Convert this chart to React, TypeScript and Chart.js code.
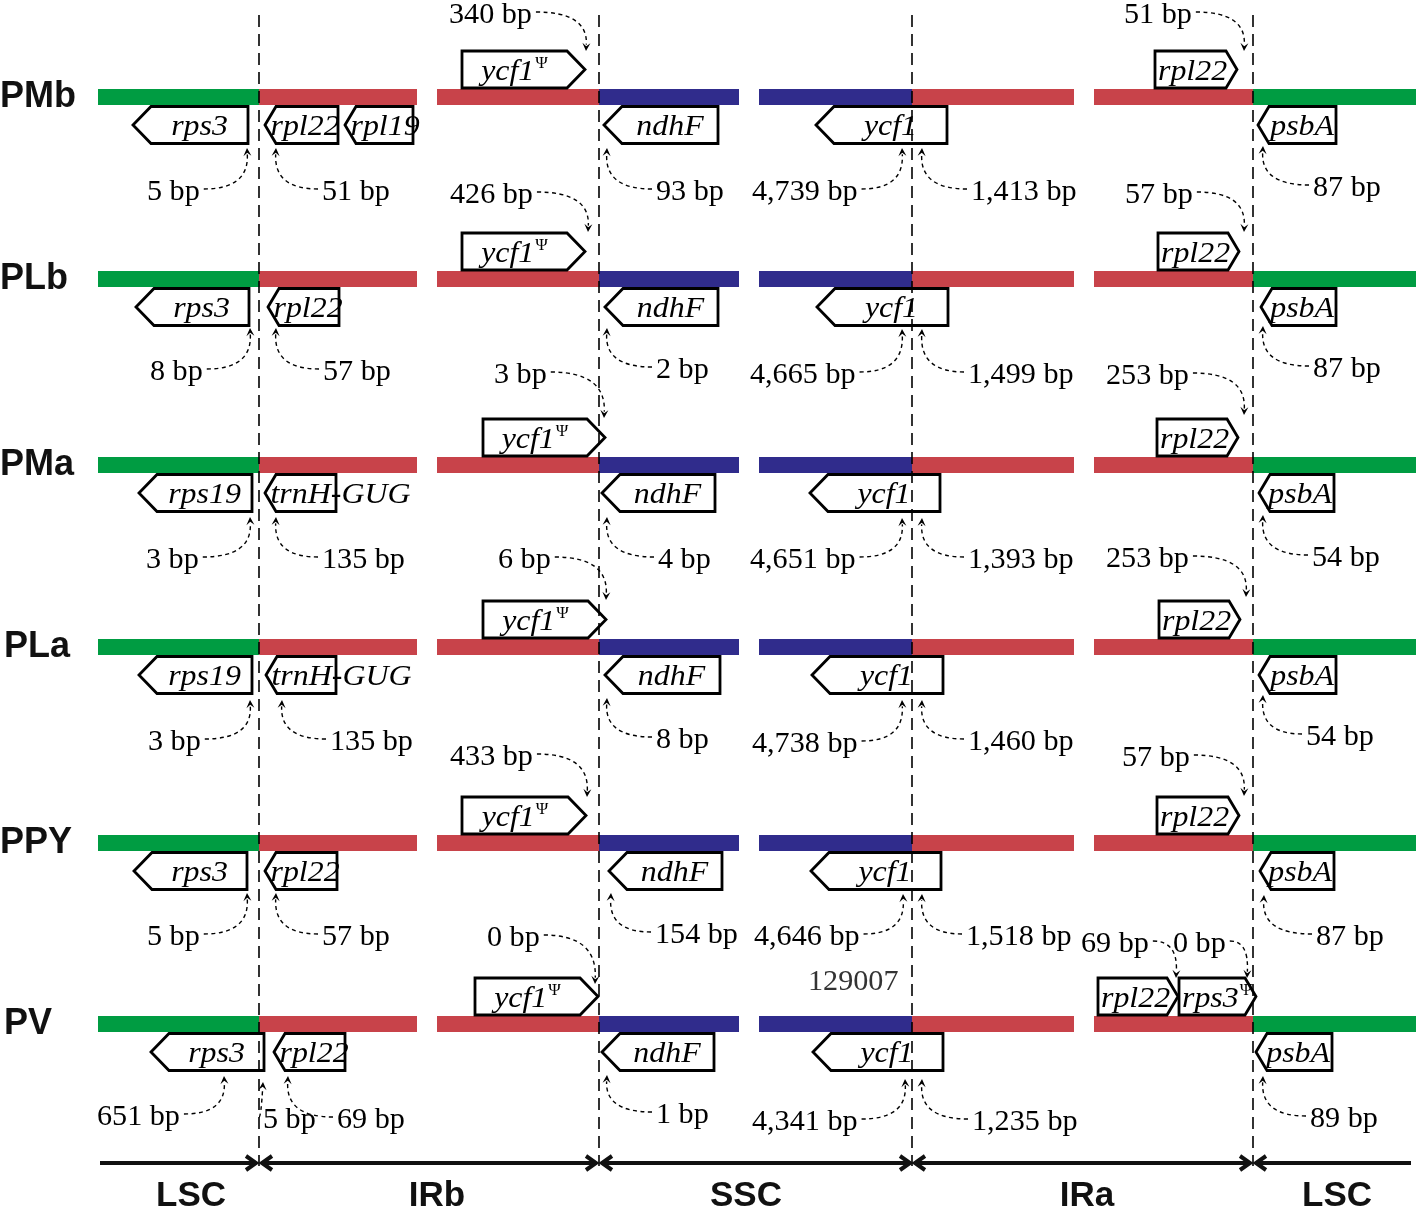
import React, { useEffect, useRef } from 'react';
import { Chart, registerables } from 'chart.js';

Chart.register(...registerables);

const W = 1418;
const H = 1209;

// ---- data ----
const rowNames = ['PMb', 'PLb', 'PMa', 'PLa', 'PPY', 'PV'];
const rowY = [97, 279, 465, 647, 843, 1024];
const rowLabelX = [0, 0, 0, 4, 0, 4];

const junctions = [259, 599, 912, 1253];

const segStarts = [98, 259, 437, 599, 759, 912, 1094, 1253];
const segEnds = [259, 417, 599, 739, 912, 1074, 1253, 1416];
const segKinds = ['LSC', 'IR', 'IR', 'SSC', 'SSC', 'IR', 'IR', 'LSC'];

const regionNames = ['LSC', 'IRb', 'SSC', 'IRa', 'LSC'];
const regionLabelX = [191, 437, 746, 1087, 1337];
const regionArrowFrom = [100, 262, 602, 915, 1256];
const regionArrowTo = [256, 596, 910, 1250, 1411];
const regionHeadLeft = [false, true, true, true, true];
const regionHeadRight = [true, true, true, true, false];

// gene: [row, name, start, end, side (a=above / b=below), direction]
const genes: [number, string, number, number, string, string][] = [
  [0, 'rps3', 133, 248, 'b', 'L'],
  [0, 'rpl22', 265, 338, 'b', 'L'],
  [0, 'rpl19', 345, 413, 'b', 'L'],
  [0, 'ycf1Ψ', 462, 585, 'a', 'R'],
  [0, 'ndhF', 604, 718, 'b', 'L'],
  [0, 'ycf1', 816, 947, 'b', 'L'],
  [0, 'rpl22', 1155, 1237, 'a', 'R'],
  [0, 'psbA', 1258, 1336, 'b', 'L'],

  [1, 'rps3', 136, 249, 'b', 'L'],
  [1, 'rpl22', 268, 339, 'b', 'L'],
  [1, 'ycf1Ψ', 462, 585, 'a', 'R'],
  [1, 'ndhF', 605, 718, 'b', 'L'],
  [1, 'ycf1', 817, 948, 'b', 'L'],
  [1, 'rpl22', 1158, 1239, 'a', 'R'],
  [1, 'psbA', 1261, 1336, 'b', 'L'],

  [2, 'rps19', 139, 252, 'b', 'L'],
  [2, 'trnH-GUG', 265, 336, 'b', 'L'],
  [2, 'ycf1Ψ', 483, 605, 'a', 'R'],
  [2, 'ndhF', 602, 715, 'b', 'L'],
  [2, 'ycf1', 810, 940, 'b', 'L'],
  [2, 'rpl22', 1157, 1238, 'a', 'R'],
  [2, 'psbA', 1259, 1334, 'b', 'L'],

  [3, 'rps19', 139, 252, 'b', 'L'],
  [3, 'trnH-GUG', 266, 336, 'b', 'L'],
  [3, 'ycf1Ψ', 483, 606, 'a', 'R'],
  [3, 'ndhF', 605, 720, 'b', 'L'],
  [3, 'ycf1', 812, 943, 'b', 'L'],
  [3, 'rpl22', 1159, 1240, 'a', 'R'],
  [3, 'psbA', 1259, 1336, 'b', 'L'],

  [4, 'rps3', 134, 247, 'b', 'L'],
  [4, 'rpl22', 265, 337, 'b', 'L'],
  [4, 'ycf1Ψ', 462, 586, 'a', 'R'],
  [4, 'ndhF', 609, 722, 'b', 'L'],
  [4, 'ycf1', 811, 941, 'b', 'L'],
  [4, 'rpl22', 1157, 1239, 'a', 'R'],
  [4, 'psbA', 1260, 1334, 'b', 'L'],

  [5, 'rps3', 151, 264, 'b', 'L'],
  [5, 'rpl22', 274, 345, 'b', 'L'],
  [5, 'ycf1Ψ', 475, 598, 'a', 'R'],
  [5, 'ndhF', 602, 714, 'b', 'L'],
  [5, 'ycf1', 813, 943, 'b', 'L'],
  [5, 'rpl22', 1098, 1178, 'a', 'R'],
  [5, 'rps3Ψ', 1179, 1256, 'a', 'R'],
  [5, 'psbA', 1256, 1332, 'b', 'L'],
];

// annotation: [label, text left x, text y, target x, target y]
const notes: [string, number, number, number, number][] = [
  ['5 bp', 147, 190, 247, 148],
  ['51 bp', 322, 190, 276, 148],
  ['340 bp', 449, 13, 586, 51],
  ['93 bp', 656, 190, 607, 148],
  ['4,739 bp', 752, 190, 902, 148],
  ['1,413 bp', 971, 190, 922, 148],
  ['51 bp', 1124, 13, 1244, 51],
  ['87 bp', 1313, 186, 1263, 146],

  ['426 bp', 450, 193, 588, 232],
  ['8 bp', 150, 370, 250, 328],
  ['57 bp', 323, 370, 276, 328],
  ['2 bp', 656, 368, 607, 328],
  ['4,665 bp', 750, 373, 902, 329],
  ['1,499 bp', 968, 373, 922, 329],
  ['57 bp', 1125, 193, 1244, 232],
  ['87 bp', 1313, 367, 1263, 326],

  ['3 bp', 494, 373, 604, 418],
  ['3 bp', 146, 558, 250, 517],
  ['135 bp', 322, 558, 276, 517],
  ['4 bp', 658, 558, 607, 517],
  ['4,651 bp', 750, 558, 902, 518],
  ['1,393 bp', 968, 558, 922, 518],
  ['253 bp', 1106, 374, 1244, 415],
  ['54 bp', 1312, 556, 1263, 515],

  ['6 bp', 498, 558, 606, 600],
  ['3 bp', 148, 740, 250, 700],
  ['135 bp', 330, 740, 282, 700],
  ['8 bp', 656, 738, 607, 698],
  ['4,738 bp', 752, 742, 902, 700],
  ['1,460 bp', 968, 740, 922, 700],
  ['253 bp', 1106, 557, 1246, 597],
  ['54 bp', 1306, 735, 1263, 695],

  ['433 bp', 450, 755, 587, 797],
  ['5 bp', 147, 935, 247, 893],
  ['57 bp', 322, 935, 276, 893],
  ['154 bp', 655, 933, 611, 893],
  ['4,646 bp', 754, 935, 903, 894],
  ['1,518 bp', 966, 935, 922, 894],
  ['57 bp', 1122, 756, 1244, 796],
  ['87 bp', 1316, 935, 1264, 895],

  ['0 bp', 487, 936, 595, 984],
  ['651 bp', 97, 1115, 224, 1076],
  ['5 bp', 263, 1118, 263, 1082],
  ['69 bp', 337, 1118, 288, 1076],
  ['1 bp', 656, 1113, 607, 1075],
  ['4,341 bp', 752, 1120, 905, 1079],
  ['1,235 bp', 972, 1120, 922, 1079],
  ['69 bp', 1081, 942, 1176, 978],
  ['0 bp', 1173, 942, 1247, 978],
  ['89 bp', 1310, 1117, 1263, 1076],
];

const extraTexts: [string, number, number][] = [['129007', 808, 980]];

// ---- styles ----
const COLORS: Record<string, string> = { LSC: '#009c42', IR: '#c8434a', SSC: '#302c8c' };
const SERIF = "'Liberation Serif', 'Times New Roman', serif";
const SANS = "'Liberation Sans', Arial, sans-serif";
const NOTE_K = 1.04;
const GENE_K = 1.1;

function stretchedText(ctx: CanvasRenderingContext2D, text: string, left: number, baseline: number, font: string, k: number) {
  ctx.save();
  ctx.font = font;
  ctx.textAlign = 'left';
  ctx.textBaseline = 'alphabetic';
  ctx.translate(left, baseline);
  ctx.scale(k, 1);
  ctx.fillText(text, 0, 0);
  ctx.restore();
}

function measure(ctx: CanvasRenderingContext2D, text: string, font: string, k: number) {
  ctx.save();
  ctx.font = font;
  const w = ctx.measureText(text).width * k;
  ctx.restore();
  return w;
}

const diagramPlugin = {
  id: 'junctionDiagram',
  beforeDraw(chart: any) {
    const ctx: CanvasRenderingContext2D = chart.ctx;
    const xs = chart.scales.x;
    const ys = chart.scales.y;
    const px = (v: number) => xs.getPixelForValue(v);
    const py = (v: number) => ys.getPixelForValue(v);

    ctx.save();
    ctx.fillStyle = '#ffffff';
    ctx.fillRect(0, 0, chart.width, chart.height);

    const BAR_H = 16;
    const BOX_H = 37;

    // bars
    rowY.forEach((ry) => {
      segStarts.forEach((s, i) => {
        ctx.fillStyle = COLORS[segKinds[i]];
        const x0 = px(s);
        const x1 = px(segEnds[i]);
        ctx.fillRect(x0, py(ry) - BAR_H / 2, x1 - x0, BAR_H);
      });
    });

    // gene boxes
    const boxGeom = genes.map((g) => {
      const [r, , s, e, side, dir] = g;
      const cy = py(rowY[r]);
      const x0 = px(s);
      const x1 = px(e);
      const top = side === 'a' ? cy - BAR_H / 2 - 1 - BOX_H : cy + BAR_H / 2 + 1.5;
      const bot = top + BOX_H;
      const tip = x1 - x0 > 100 ? 18 : 11;
      return { x0, x1, top, bot, tip, dir };
    });
    boxGeom.forEach((b) => {
      const mid = (b.top + b.bot) / 2;
      ctx.beginPath();
      if (b.dir === 'L') {
        ctx.moveTo(b.x0, mid);
        ctx.lineTo(b.x0 + b.tip, b.top);
        ctx.lineTo(b.x1, b.top);
        ctx.lineTo(b.x1, b.bot);
        ctx.lineTo(b.x0 + b.tip, b.bot);
      } else {
        ctx.moveTo(b.x0, b.top);
        ctx.lineTo(b.x1 - b.tip, b.top);
        ctx.lineTo(b.x1, mid);
        ctx.lineTo(b.x1 - b.tip, b.bot);
        ctx.lineTo(b.x0, b.bot);
      }
      ctx.closePath();
      ctx.fillStyle = '#ffffff';
      ctx.fill();
      ctx.lineWidth = 2.8;
      ctx.lineJoin = 'miter';
      ctx.strokeStyle = '#000000';
      ctx.stroke();
    });

    // junction dashed lines
    ctx.save();
    ctx.strokeStyle = '#000000';
    ctx.lineWidth = 1.6;
    ctx.setLineDash([12, 7]);
    junctions.forEach((j) => {
      ctx.beginPath();
      ctx.moveTo(px(j), py(15));
      ctx.lineTo(px(j), py(1166));
      ctx.stroke();
    });
    ctx.restore();

    // gene names
    ctx.fillStyle = '#000000';
    const geneFont = `italic 29px ${SERIF}`;
    const psiFont = `17px ${SERIF}`;
    genes.forEach((g, i) => {
      const b = boxGeom[i];
      const name = g[1];
      const psi = name.endsWith('Ψ');
      const main = psi ? name.slice(0, -1) : name;
      const mw = measure(ctx, main, geneFont, GENE_K);
      const pw = psi ? measure(ctx, 'Ψ', psiFont, 1.0) + 1 : 0;
      const tw = mw + pw;
      const bodyL = b.dir === 'L' ? b.x0 + b.tip : b.x0;
      const bodyR = b.dir === 'L' ? b.x1 : b.x1 - b.tip;
      let left: number;
      if (tw <= bodyR - bodyL - 4) left = (bodyL + bodyR) / 2 - tw / 2;
      else if (b.dir === 'L') left = Math.max(b.x0 + b.tip * 0.5, bodyR - tw - 2);
      else left = b.x0 + 3;
      const base = (b.top + b.bot) / 2 + 10;
      stretchedText(ctx, main, left, base, geneFont, GENE_K);
      if (psi) stretchedText(ctx, 'Ψ', left + mw + 1, base - 12, psiFont, 1.0);
    });

    // annotations
    const noteFont = `29px ${SERIF}`;
    notes.forEach((n) => {
      const [label, tx, ty, gx, gy] = n;
      const w = measure(ctx, label, noteFont, NOTE_K);
      const left = px(tx);
      const right = left + w;
      const cy = py(ty);
      ctx.fillStyle = '#000000';
      stretchedText(ctx, label, left, cy + 10, noteFont, NOTE_K);
      const T = { x: px(gx), y: py(gy) };
      let S: { x: number; y: number };
      let C: { x: number; y: number };
      if (T.x >= right) {
        S = { x: right + 4, y: cy - 1 };
        C = { x: T.x + 2, y: S.y };
      } else if (T.x <= left) {
        S = { x: left - 4, y: cy - 1 };
        C = { x: T.x - 2, y: S.y };
      } else {
        S = { x: T.x + 2, y: cy - 14 };
        C = { x: (S.x + T.x) / 2, y: (S.y + T.y) / 2 };
      }
      let dx = T.x - C.x;
      let dy = T.y - C.y;
      const len = Math.hypot(dx, dy) || 1;
      dx /= len;
      dy /= len;
      const head = 8;
      const E = { x: T.x - dx * head * 0.8, y: T.y - dy * head * 0.8 };
      ctx.save();
      ctx.strokeStyle = '#000000';
      ctx.lineWidth = 1.4;
      ctx.setLineDash([4, 3.5]);
      ctx.beginPath();
      ctx.moveTo(S.x, S.y);
      ctx.quadraticCurveTo(C.x, C.y, E.x, E.y);
      ctx.stroke();
      ctx.restore();
      // arrow head
      const bx = T.x - dx * head;
      const by = T.y - dy * head;
      const nx = -dy;
      const ny = dx;
      ctx.beginPath();
      ctx.moveTo(T.x, T.y);
      ctx.lineTo(bx + nx * 4, by + ny * 4);
      ctx.lineTo(T.x - dx * head * 0.6, T.y - dy * head * 0.6);
      ctx.lineTo(bx - nx * 4, by - ny * 4);
      ctx.closePath();
      ctx.fillStyle = '#000000';
      ctx.fill();
    });

    extraTexts.forEach(([t, x, y]) => {
      ctx.fillStyle = '#333333';
      stretchedText(ctx, t, px(x), py(y) + 10, noteFont, NOTE_K);
    });

    // row labels
    ctx.fillStyle = '#111111';
    rowNames.forEach((name, i) => {
      ctx.font = `bold 36px ${SANS}`;
      ctx.textAlign = 'left';
      ctx.textBaseline = 'alphabetic';
      ctx.fillText(name, px(rowLabelX[i]), py(rowY[i]) + 10);
    });

    // region arrows
    const ay = py(1163);
    ctx.strokeStyle = '#111111';
    ctx.lineWidth = 4;
    ctx.lineJoin = 'miter';
    ctx.lineCap = 'butt';
    regionArrowFrom.forEach((f, i) => {
      const x0 = px(f);
      const x1 = px(regionArrowTo[i]);
      ctx.beginPath();
      ctx.moveTo(x0, ay);
      ctx.lineTo(x1, ay);
      ctx.stroke();
      if (regionHeadRight[i]) {
        ctx.beginPath();
        ctx.moveTo(x1 - 10, ay - 7);
        ctx.lineTo(x1, ay);
        ctx.lineTo(x1 - 10, ay + 7);
        ctx.stroke();
      }
      if (regionHeadLeft[i]) {
        ctx.beginPath();
        ctx.moveTo(x0 + 10, ay - 7);
        ctx.lineTo(x0, ay);
        ctx.lineTo(x0 + 10, ay + 7);
        ctx.stroke();
      }
    });

    // region labels
    ctx.fillStyle = '#111111';
    ctx.font = `bold 35px ${SANS}`;
    ctx.textAlign = 'center';
    ctx.textBaseline = 'alphabetic';
    regionNames.forEach((n, i) => {
      ctx.fillText(n, px(regionLabelX[i]), py(1194) + 12);
    });

    ctx.restore();
  },
};

export default function App() {
  const canvasRef = useRef<HTMLCanvasElement | null>(null);

  useEffect(() => {
    if (!canvasRef.current) return;
    const chart = new Chart(canvasRef.current, {
      type: 'scatter',
      data: { datasets: [] },
      options: {
        animation: false,
        responsive: false,
        maintainAspectRatio: false,
        devicePixelRatio: 1,
        events: [],
        layout: { padding: 0 },
        plugins: { legend: { display: false }, tooltip: { enabled: false } },
        scales: {
          x: { type: 'linear', min: 0, max: W, display: false },
          y: { type: 'linear', min: 0, max: H, reverse: true, display: false },
        },
      },
      plugins: [diagramPlugin],
    } as any);
    return () => chart.destroy();
  }, []);

  return (
    <div style={{ position: 'absolute', left: 0, top: 0, width: W, height: H, background: '#fff' }}>
      <canvas ref={canvasRef} width={W} height={H} style={{ width: W, height: H, display: 'block' }} />
    </div>
  );
}
